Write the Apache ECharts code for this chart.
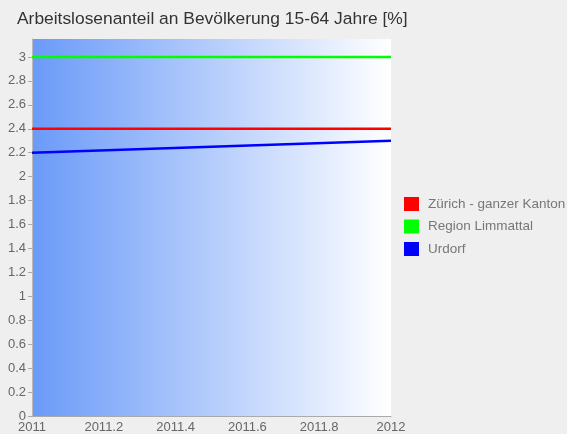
<!DOCTYPE html>
<html>
<head>
<meta charset="utf-8">
<script src="https://cdn.jsdelivr.net/npm/echarts@6/dist/echarts.min.js"></script>
<style>
  html, body { margin: 0; padding: 0; background: #efefef; }
  #chart { width: 567px; height: 434px; }
</style>
</head>
<body>
<div id="chart"></div>
<script>
  // Daten
  var years = [2011, 2012];
  var seriesNames = ['Zürich - ganzer Kanton', 'Region Limmattal', 'Urdorf'];
  var zuerich = [2.4, 2.4];
  var limmattal = [3.0, 3.0];
  var urdorf = [2.2, 2.3];
  var yTicks = [0, 0.2, 0.4, 0.6, 0.8, 1, 1.2, 1.4, 1.6, 1.8, 2, 2.2, 2.4, 2.6, 2.8, 3];
  var colors = ['#ff0000', '#00ff00', '#0000ff'];

  function pairs(values) {
    return years.map(function (y, i) { return [y, values[i]]; });
  }

  var chart = echarts.init(document.getElementById('chart'));
  chart.setOption({
    backgroundColor: '#efefef',
    animation: false,
    color: colors,
    title: {
      text: 'Arbeitslosenanteil an Bevölkerung 15-64 Jahre [%]',
      left: 12,
      top: 6,
      textStyle: { fontFamily: 'Liberation Sans', fontSize: 17.4, fontWeight: 'normal', color: '#333' }
    },
    legend: {
      orient: 'vertical',
      left: 404,
      top: 197,
      padding: 0,
      itemWidth: 15,
      itemHeight: 14,
      itemGap: 8.5,
      icon: 'rect',
      data: seriesNames,
      textStyle: { fontFamily: 'Liberation Sans', fontSize: 13.5, color: '#777', padding: [0, 0, 0, 4] }
    },
    grid: {
      left: 32,
      right: 176,
      top: 39,
      bottom: 18,
      show: true,
      borderWidth: 0,
      backgroundColor: new echarts.graphic.LinearGradient(0, 0, 1, 0, [
        { offset: 0, color: '#6a9af8' },
        { offset: 1, color: '#ffffff' }
      ])
    },
    xAxis: {
      type: 'value',
      min: 2011,
      max: 2012,
      interval: 0.2,
      axisLine: { lineStyle: { color: '#aaa' } },
      axisTick: { show: false },
      splitLine: { show: false },
      axisLabel: {
        fontFamily: 'Liberation Sans', fontSize: 13, color: '#666', margin: 5,
        formatter: function (v) { return String(Math.round(v * 10) / 10); }
      }
    },
    yAxis: {
      type: 'value',
      min: 0,
      max: 3.15,
      axisLine: { show: true, lineStyle: { color: '#bbb' } },
      axisTick: { show: true, length: 4, customValues: yTicks, lineStyle: { color: '#aaa' } },
      splitLine: { show: false },
      axisLabel: { fontFamily: 'Liberation Sans', fontSize: 13, color: '#666', margin: 6, customValues: yTicks }
    },
    series: [
      { name: seriesNames[0], type: 'line', data: pairs(zuerich), symbol: 'none', lineStyle: { width: 2.5 } },
      { name: seriesNames[1], type: 'line', data: pairs(limmattal), symbol: 'none', lineStyle: { width: 2.5 } },
      { name: seriesNames[2], type: 'line', data: pairs(urdorf), symbol: 'none', lineStyle: { width: 2.5 } }
    ]
  });
</script>
</body>
</html>
